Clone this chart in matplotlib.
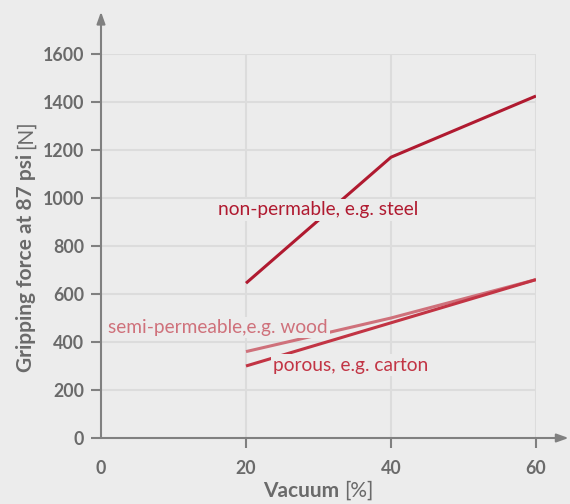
import matplotlib
matplotlib.use("Agg")
import matplotlib.pyplot as plt

vacuum = [20, 40, 60]
steel = [645, 1170, 1425]
wood = [360, 500, 660]
carton = [300, 480, 660]
xticks = [0, 20, 40, 60]
yticks = [0, 200, 400, 600, 800, 1000, 1200, 1400, 1600]

BG = "#ECECEC"
GRID = "#DCDCDC"
AX = "#808080"
TXT = "#6A6A6A"
C_STEEL = "#B01A30"
C_WOOD = "#CF717B"
C_CARTON = "#C23444"

plt.rcParams['font.family'] = ['Lato', 'DejaVu Sans']

fig = plt.figure(figsize=(5.70, 5.04), dpi=100, facecolor=BG)
ax = fig.add_axes([101/570, 66/504, 435/570, 384/504], facecolor=BG)
ax.set_xlim(0, 60)
ax.set_ylim(0, 1600)

for y in yticks[1:]:
    ax.axhline(y, color=GRID, lw=1.5, zorder=0)
for x in xticks[1:]:
    ax.axvline(x, color=GRID, lw=1.5, zorder=0)

for s in ['top', 'right', 'left', 'bottom']:
    ax.spines[s].set_visible(False)

# axis lines with arrows
ax.annotate('', xy=(0, 1.11), xycoords='axes fraction', xytext=(0, 0),
            arrowprops=dict(arrowstyle='-|>,head_length=0.7,head_width=0.25', color=AX, lw=1.5, shrinkA=0, shrinkB=0), annotation_clip=False)
ax.annotate('', xy=(1.075, 0), xycoords='axes fraction', xytext=(0, 0),
            arrowprops=dict(arrowstyle='-|>,head_length=0.7,head_width=0.25', color=AX, lw=1.5, shrinkA=0, shrinkB=0), annotation_clip=False)

ax.set_xticks(xticks)
ax.set_yticks(yticks)
ax.tick_params(axis='both', colors=AX, length=7, width=1.5, labelcolor=TXT, labelsize=12.8)
ax.tick_params(axis='y', pad=5)
ax.tick_params(axis='x', pad=9)
for lab in ax.get_xticklabels() + ax.get_yticklabels():
    lab.set_fontweight('bold')
# hide x tick at 0
ax.xaxis.get_major_ticks()[0].tick1line.set_visible(False)

ax.plot(vacuum, steel, color=C_STEEL, lw=2.2, solid_capstyle='butt', zorder=3)
ax.plot(vacuum, wood, color=C_WOOD, lw=2.2, solid_capstyle='butt', zorder=3)
ax.plot(vacuum, carton, color=C_CARTON, lw=2.2, solid_capstyle='butt', zorder=3)

bbox = dict(facecolor=BG, edgecolor='none', pad=1.5)
ax.text(30, 950, "non-permable, e.g. steel", color=C_STEEL, fontsize=13.8,
        ha='center', va='center', bbox=bbox, zorder=4)
ax.text(1.0, 462, "semi-permeable,e.g. wood", color=C_WOOD, fontsize=13.8,
        ha='left', va='center', bbox=bbox, zorder=4)
ax.text(23.7, 304, "porous, e.g. carton", color=C_CARTON, fontsize=13.8,
        ha='left', va='center', bbox=bbox, zorder=4)

# axis labels: bold part + light bracket part
fig.canvas.draw()
r = fig.canvas.get_renderer()
xl1 = fig.text(0, 7/504, "Vacuum ", color=TXT, fontsize=15, fontweight='bold', ha='left', va='baseline')
xl2 = fig.text(0, 7/504, "[%]", color=TXT, fontsize=15, fontweight='normal', ha='left', va='baseline')
w1 = xl1.get_window_extent(r).width
w2 = xl2.get_window_extent(r).width
x0 = 318.5 - (w1 + w2) / 2
xl1.set_x(x0 / 570)
xl2.set_x((x0 + w1) / 570)

yl1 = fig.text(26/570, 0, "Gripping force at 87 psi ", color=TXT, fontsize=15, fontweight='bold',
               rotation=90, ha='left', va='center', rotation_mode='anchor')
yl2 = fig.text(26/570, 0, "[N]", color=TXT, fontsize=15, fontweight='normal',
               rotation=90, ha='left', va='center', rotation_mode='anchor')
h1 = yl1.get_window_extent(r).height
h2 = yl2.get_window_extent(r).height
y0 = (504 - 246) - (h1 + h2) / 2
yl1.set_y(y0 / 504)
yl2.set_y((y0 + h1) / 504)

fig.savefig("out.png", dpi=100, facecolor=BG)
